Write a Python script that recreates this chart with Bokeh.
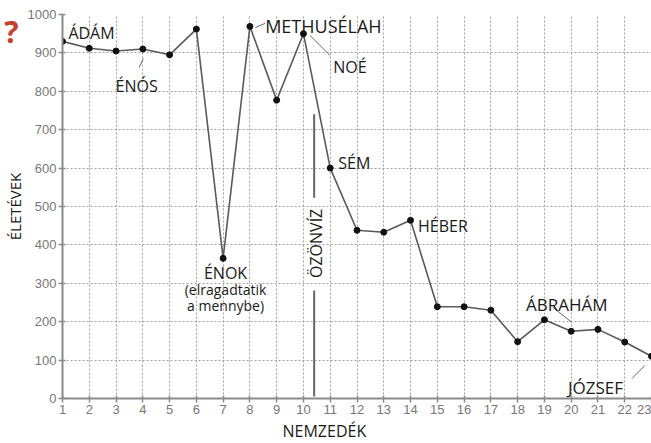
import math
from bokeh.plotting import figure
from bokeh.models import Label, FixedTicker, Range1d, Title, LinearAxis
from bokeh.embed import file_html
from bokeh.resources import INLINE

# --- data ---
generations = list(range(1, 24))
lifespans = [930, 912, 905, 910, 895, 962, 365, 969, 777, 950, 600, 438,
             433, 464, 239, 239, 230, 148, 205, 175, 180, 147, 110]
x_ticks = list(range(1, 24))
y_ticks = list(range(0, 1001, 100))

names = ["ÁDÁM", "ÉNÓS", "METHUSÉLAH", "NOÉ", "SÉM", "HÉBER", "ÁBRAHÁM", "JÓZSEF"]
enok_lines = ["ÉNOK", "(elragadtatik", "a mennybe)"]
flood_text = "ÖZÖNVÍZ"
x_title = "NEMZEDÉK"
y_title = "ÉLETÉVEK"
mark_text = "?"

# --- annotation layout (data-space anchors, font sizes) ---
name_x = [1.22, 2.98, 8.57, 11.11, 11.3, 14.28, 18.31, 19.88]
name_y = [951, 815, 969, 862, 612, 450, 245, 29]
name_sizes = ["16px", "16px", "18px", "16px", "16px", "16px", "17px", "17px"]

enok_x = 7.09
enok_y = [328, 284, 242]
enok_sizes = ["16px", "14px", "14px"]

lead_x0 = [3.86, 8.2, 10.25, 19.32, 22.27]
lead_y0 = [862, 966, 945, 237, 52]
lead_x1 = [4.02, 8.57, 11.0, 20.03, 22.75]
lead_y1 = [885, 977, 893, 198, 86]

flood_x = 10.4
flood_y0 = [523, 5]
flood_y1 = [740, 281]
flood_text_y = 404
mark_y = 955

TXT_FONT = "Open Sans"

p = figure(width=651, height=443, x_range=Range1d(1, 23), y_range=Range1d(0, 1000),
           output_backend="svg", toolbar_location=None,
           min_border_left=62, min_border_right=0, min_border_top=14, min_border_bottom=45)
p.outline_line_color = None
p.background_fill_color = "white"
p.border_fill_color = "white"

for ax in (p.xaxis[0], p.yaxis[0]):
    ax.axis_line_color = "#8a8a8a"
    ax.axis_line_width = 2
    ax.major_tick_line_color = "#8a8a8a"
    ax.major_tick_line_width = 1.5
    ax.major_tick_in = 3
    ax.major_tick_out = 4
    ax.minor_tick_line_color = None
    ax.major_label_text_font = "Liberation Sans"
    ax.major_label_text_font_size = "13px"
    ax.major_label_text_color = "#777777"
    ax.major_label_standoff = 2
p.xaxis.ticker = FixedTicker(ticks=x_ticks)
p.yaxis.ticker = FixedTicker(ticks=y_ticks)

for g in (p.xgrid[0], p.ygrid[0]):
    g.grid_line_color = "#a0a0a0"
    g.grid_line_dash = "2 2"
    g.grid_line_width = 1
p.xgrid.ticker = FixedTicker(ticks=x_ticks)
p.ygrid.ticker = FixedTicker(ticks=y_ticks)

# flood line
p.segment(x0=[flood_x] * 2, y0=flood_y0, x1=[flood_x] * 2, y1=flood_y1,
          line_color="#666666", line_width=2)

# leaders
p.segment(x0=lead_x0, y0=lead_y0, x1=lead_x1, y1=lead_y1,
          line_color="#666666", line_width=1)

# data series
p.line(generations, lifespans, line_color="#5a5a5a", line_width=1.6)
p.scatter(generations, lifespans, size=6, color="#111111")

for t, x, y, s in zip(names, name_x, name_y, name_sizes):
    p.add_layout(Label(x=x, y=y, text=t, text_font=TXT_FONT, text_font_size=s,
                       text_color="#1a1a1a", text_align="left", text_baseline="alphabetic"))

for t, y, s in zip(enok_lines, enok_y, enok_sizes):
    p.add_layout(Label(x=enok_x, y=y, text=t, text_font=TXT_FONT, text_font_size=s,
                       text_color="#1a1a1a", text_align="center", text_baseline="alphabetic"))

p.add_layout(Label(x=flood_x + 0.08, y=flood_text_y, text=flood_text, angle=math.pi / 2,
                   text_font=TXT_FONT, text_font_size="16px", text_color="#1a1a1a",
                   text_align="center", text_baseline="middle"))

# axis titles as side titles
p.add_layout(Title(text=y_title, align="center", offset=9, standoff=0,
                   text_font=TXT_FONT, text_font_size="15px", text_font_style="normal",
                   text_color="#1a1a1a"), "left")
p.add_layout(Title(text=x_title, align="left", offset=220, standoff=3,
                   text_font=TXT_FONT, text_font_size="16px", text_font_style="normal",
                   text_color="#1a1a1a"), "below")

# red question mark at the top-left edge, as the label of an invisible outer axis
mark_axis = LinearAxis(ticker=FixedTicker(ticks=[mark_y]),
                       major_label_overrides={mark_y: mark_text})
mark_axis.axis_line_color = None
mark_axis.major_tick_line_color = None
mark_axis.minor_tick_line_color = None
mark_axis.major_tick_in = 0
mark_axis.major_tick_out = 0
mark_axis.major_label_standoff = -16
mark_axis.major_label_text_font = TXT_FONT
mark_axis.major_label_text_font_size = "30px"
mark_axis.major_label_text_font_style = "bold"
mark_axis.major_label_text_color = "#c4402b"
p.add_layout(mark_axis, "left")

open("out.html", "w").write(file_html(p, INLINE))
